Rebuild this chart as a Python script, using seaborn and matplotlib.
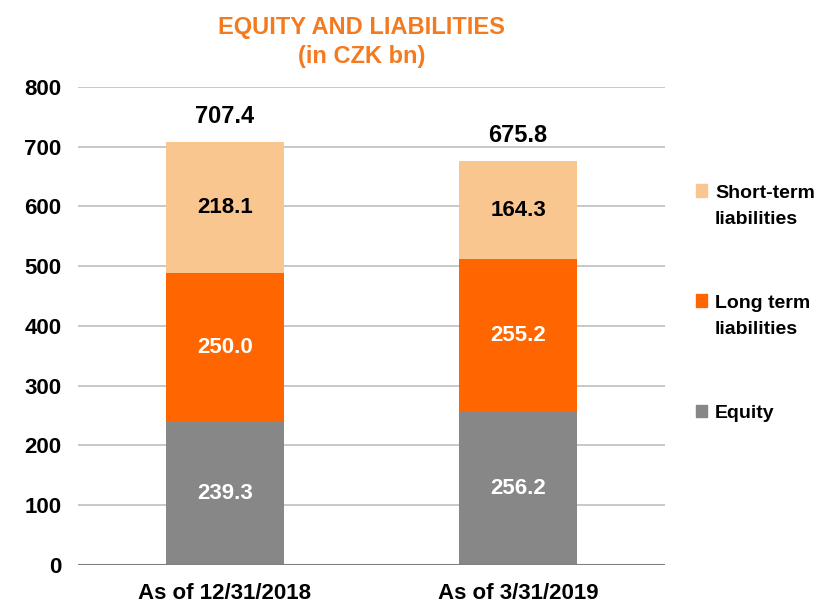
import pandas as pd
import numpy as np
import matplotlib
matplotlib.use("Agg")
import matplotlib.pyplot as plt
import seaborn as sns
from matplotlib.patches import Patch, Rectangle
from matplotlib.legend_handler import HandlerPatch

# data
dates = ["As of 12/31/2018", "As of 3/31/2019"]
equity = [239.3, 256.2]
long_term = [250.0, 255.2]
short_term = [218.1, 164.3]
totals = [707.4, 675.8]

c_equity = "#878787"
c_long = "#FF6600"
c_short = "#FAC690"
c_title = "#F47A20"

sns.set_theme(style="white")
plt.rcParams['font.family'] = ['Liberation Sans Narrow', 'Liberation Sans', 'DejaVu Sans']
plt.rcParams['font.weight'] = 'bold'

df = pd.DataFrame({"date": dates, "equity": equity, "long": long_term, "short": short_term})
df["b_long"] = df["equity"]
df["b_short"] = df["equity"] + df["long"]

fig = plt.figure(figsize=(8.32, 6.03), dpi=100)
ax = fig.add_axes([0.094, 0.063, 0.705, 0.793])

sns.barplot(data=df, x="date", y="equity", color=c_equity, width=0.4, ax=ax,
            saturation=1, zorder=3, linewidth=0)
sns.barplot(data=df, x="date", y="long", bottom=df["b_long"], color=c_long, width=0.4,
            ax=ax, saturation=1, zorder=3, linewidth=0)
sns.barplot(data=df, x="date", y="short", bottom=df["b_short"], color=c_short, width=0.4,
            ax=ax, saturation=1, zorder=3, linewidth=0)

# segment labels
for i in range(len(dates)):
    ax.text(i, equity[i] / 2, f"{equity[i]:.1f}", ha="center", va="center",
            color="white", fontsize=16, fontweight="bold", zorder=4)
    ax.text(i, equity[i] + long_term[i] / 2, f"{long_term[i]:.1f}", ha="center", va="center",
            color="white", fontsize=16, fontweight="bold", zorder=4)
    ax.text(i, equity[i] + long_term[i] + short_term[i] / 2, f"{short_term[i]:.1f}",
            ha="center", va="center", color="black", fontsize=16, fontweight="bold", zorder=4)
    ax.text(i, totals[i] + 24, f"{totals[i]:.1f}", ha="center", va="bottom",
            color="black", fontsize=17, fontweight="bold", zorder=4)

ax.set_xlim(-0.5, 1.5)
ax.set_ylim(0, 800)
ax.set_yticks(range(0, 801, 100))
ax.yaxis.grid(True, color="#BFBFBF", linewidth=1.2, zorder=0)
ax.axhline(0, color="#7F7F7F", linewidth=1.5, zorder=5)
for s in ax.spines.values():
    s.set_visible(False)
ax.set_xlabel("")
ax.set_ylabel("")
ax.tick_params(axis="both", length=0, labelsize=16)
ax.tick_params(axis="y", pad=12)
ax.tick_params(axis="x", pad=13)
for lbl in ax.get_xticklabels() + ax.get_yticklabels():
    lbl.set_fontweight("bold")
    lbl.set_color("black")

fig.text(0.435, 0.973, "EQUITY AND LIABILITIES\n(in CZK bn)", ha="center", va="top",
         color=c_title, fontsize=17, fontweight="bold", linespacing=1.32)


# legend markers sit next to the first line of two-line labels
def top_square(legend, orig_handle, xdescent, ydescent, width, height, fontsize):
    return Rectangle((-xdescent, -ydescent + 11), width, height)


handles = [Patch(color=c_short), Patch(color=c_long), Patch(color=c_equity)]
labels = ["Short-term\nliabilities", "Long term\nliabilities", "Equity"]
hmap = {handles[0]: HandlerPatch(patch_func=top_square),
        handles[1]: HandlerPatch(patch_func=top_square)}
leg = fig.legend(handles, labels, loc="upper left", bbox_to_anchor=(0.815, 0.723),
                 frameon=False, fontsize=14, labelspacing=3.45, handlelength=0.6,
                 handleheight=0.6, handletextpad=0.4, alignment="left", handler_map=hmap)
for t in leg.get_texts():
    t.set_fontweight("bold")
    t.set_color("black")
    t.set_linespacing(1.7)

fig.savefig("out.png", dpi=100)
